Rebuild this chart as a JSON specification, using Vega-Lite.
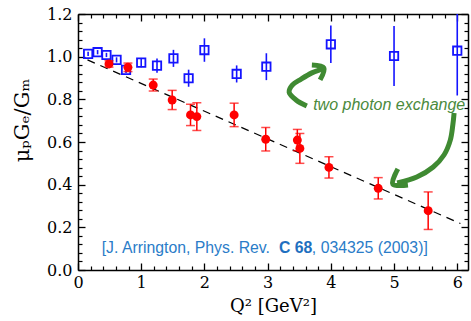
{
  "$schema": "https://vega.github.io/schema/vega-lite/v6.json",
  "width": 390,
  "height": 256,
  "autosize": {"type": "none"},
  "padding": {"left": 78, "top": 14, "right": 3, "bottom": 51},
  "background": "white",
  "config": {"view": {"stroke": null}},
  "datasets": {
    "blue": [
      {"q2": 0.16, "r": 1.013, "lo": 1.003, "hi": 1.023},
      {"q2": 0.31, "r": 1.021, "lo": 1.011, "hi": 1.031},
      {"q2": 0.45, "r": 1.008, "lo": 0.998, "hi": 1.018},
      {"q2": 0.61, "r": 0.985, "lo": 0.973, "hi": 0.997},
      {"q2": 0.76, "r": 0.938, "lo": 0.923, "hi": 0.953},
      {"q2": 1.0, "r": 0.972, "lo": 0.95, "hi": 0.994},
      {"q2": 1.25, "r": 0.958, "lo": 0.925, "hi": 0.991},
      {"q2": 1.51, "r": 0.992, "lo": 0.952, "hi": 1.032},
      {"q2": 1.75, "r": 0.899, "lo": 0.859, "hi": 0.939},
      {"q2": 2.0, "r": 1.031, "lo": 0.976, "hi": 1.086},
      {"q2": 2.51, "r": 0.919, "lo": 0.879, "hi": 0.959},
      {"q2": 2.98, "r": 0.953, "lo": 0.89, "hi": 1.016},
      {"q2": 4.0, "r": 1.058, "lo": 0.97, "hi": 1.146},
      {"q2": 5.0, "r": 1.003, "lo": 0.862, "hi": 1.144},
      {"q2": 6.0, "r": 1.028, "lo": 0.818, "hi": 1.238}
    ],
    "red": [
      {"q2": 0.49, "r": 0.966, "lo": 0.951, "hi": 0.981},
      {"q2": 0.79, "r": 0.95, "lo": 0.93, "hi": 0.97},
      {"q2": 1.19, "r": 0.867, "lo": 0.839, "hi": 0.895},
      {"q2": 1.49, "r": 0.797, "lo": 0.752, "hi": 0.842},
      {"q2": 1.78, "r": 0.727, "lo": 0.677, "hi": 0.777},
      {"q2": 1.88, "r": 0.719, "lo": 0.654, "hi": 0.784},
      {"q2": 2.47, "r": 0.727, "lo": 0.672, "hi": 0.782},
      {"q2": 2.97, "r": 0.613, "lo": 0.558, "hi": 0.668},
      {"q2": 3.47, "r": 0.609, "lo": 0.559, "hi": 0.659},
      {"q2": 3.51, "r": 0.57, "lo": 0.5, "hi": 0.64},
      {"q2": 3.97, "r": 0.481, "lo": 0.431, "hi": 0.531},
      {"q2": 4.75, "r": 0.383, "lo": 0.333, "hi": 0.433},
      {"q2": 5.54, "r": 0.278, "lo": 0.19, "hi": 0.366}
    ],
    "fit": [
      {"q2": 0.15, "r": 0.985},
      {"q2": 6.05, "r": 0.218}
    ],
    "arrows": [
      {"part": "a1", "i": 0, "q2": 3.62, "r": 0.769},
      {"part": "a1", "i": 1, "q2": 3.45, "r": 0.797},
      {"part": "a1", "i": 2, "q2": 3.34, "r": 0.834},
      {"part": "a1", "i": 3, "q2": 3.39, "r": 0.867},
      {"part": "a1", "i": 4, "q2": 3.53, "r": 0.895},
      {"part": "a1", "i": 5, "q2": 3.7, "r": 0.924},
      {"part": "a1", "i": 6, "q2": 3.86, "r": 0.942},
      {"part": "h1", "i": 0, "q2": 3.7, "r": 0.961},
      {"part": "h1", "i": 1, "q2": 3.89, "r": 0.947},
      {"part": "h1", "i": 2, "q2": 3.83, "r": 0.891},
      {"part": "a2", "i": 0, "q2": 5.95, "r": 0.736},
      {"part": "a2", "i": 1, "q2": 5.93, "r": 0.68},
      {"part": "a2", "i": 2, "q2": 5.89, "r": 0.609},
      {"part": "a2", "i": 3, "q2": 5.79, "r": 0.539},
      {"part": "a2", "i": 4, "q2": 5.62, "r": 0.483},
      {"part": "a2", "i": 5, "q2": 5.36, "r": 0.436},
      {"part": "a2", "i": 6, "q2": 5.05, "r": 0.408},
      {"part": "h2", "i": 0, "q2": 5.06, "r": 0.474},
      {"part": "h2", "i": 1, "q2": 4.98, "r": 0.403},
      {"part": "h2", "i": 2, "q2": 5.22, "r": 0.398}
    ],
    "labels": [
      {"q2": 3.72, "r": 0.75, "text": "two photon exchange", "kind": "note"},
      {"q2": 0.375, "r": 0.08, "text": "[J. Arrington, Phys. Rev.", "kind": "cite"},
      {"q2": 3.18, "r": 0.08, "text": "C 68", "kind": "bold"},
      {"q2": 3.7, "r": 0.08, "text": ", 034325 (2003)]", "kind": "cite"}
    ]
  },
  "resolve": {"axis": {"x": "independent", "y": "independent"}},
  "layer": [
    {
      "mark": {"type": "rule", "color": "#555555", "strokeWidth": 2},
      "encoding": {
        "y": {"datum": 1, "type": "quantitative", "scale": {"domain": [0, 1.2], "nice": false, "zero": false}, "axis": null}
      }
    },
    {
      "data": {"name": "fit"},
      "mark": {"type": "line", "color": "black", "strokeWidth": 1.2, "strokeDash": [8, 6]},
      "encoding": {
        "x": {"field": "q2", "type": "quantitative", "scale": {"domain": [0, 6.17], "nice": false, "zero": false},
          "axis": {"orient": "bottom", "values": [0, 1, 2, 3, 4, 5, 6], "format": "d", "tickSize": -7, "tickColor": "black", "tickWidth": 1.3,
            "domainColor": "black", "domainWidth": 1.5, "labelFont": "DejaVu Serif", "labelFontSize": 16, "labelColor": "black",
            "labelPadding": 11, "labelFlush": false, "labelOverlap": false, "grid": false,
            "title": "Q² [GeV²]", "titleFont": "DejaVu Serif", "titleFontSize": 18, "titleFontWeight": "normal", "titleColor": "black",
            "titleY": 36, "titleBaseline": "middle"}},
        "y": {"field": "r", "type": "quantitative", "scale": {"domain": [0, 1.2], "nice": false, "zero": false},
          "axis": {"orient": "left", "values": [0, 0.2, 0.4, 0.6, 0.8, 1.0, 1.2], "format": ".1f", "tickSize": -7, "tickColor": "black", "tickWidth": 1.3,
            "domainColor": "black", "domainWidth": 1.5, "labelFont": "DejaVu Serif", "labelFontSize": 16, "labelColor": "black",
            "labelPadding": 13, "labelFlush": false, "labelOverlap": false, "grid": false,
            "title": "μₚGₑ/Gₘ", "titleFont": "DejaVu Serif", "titleFontSize": 21, "titleFontWeight": "normal", "titleColor": "black",
            "titleX": -56, "titleY": 106, "titleAngle": 270, "titleAlign": "center", "titleBaseline": "middle"}}
      }
    },
    {
      "data": {"name": "blue"},
      "mark": {"type": "rule", "color": "#1414ff", "strokeWidth": 1.6, "clip": true},
      "encoding": {
        "x": {"field": "q2", "type": "quantitative", "scale": {"domain": [0, 6.17], "nice": false, "zero": false},
          "axis": {"orient": "bottom", "values": [0.2, 0.4, 0.6, 0.8, 1.2, 1.4, 1.6, 1.8, 2.2, 2.4, 2.6, 2.8, 3.2, 3.4, 3.6, 3.8, 4.2, 4.4, 4.6, 4.8, 5.2, 5.4, 5.6, 5.8],
            "tickSize": -4, "tickColor": "black", "tickWidth": 1.2, "domain": false, "labels": false, "grid": false, "title": null}},
        "y": {"field": "lo", "type": "quantitative", "scale": {"domain": [0, 1.2], "nice": false, "zero": false},
          "axis": {"orient": "left", "values": [0.04, 0.08, 0.12, 0.16, 0.24, 0.28, 0.32, 0.36, 0.44, 0.48, 0.52, 0.56, 0.64, 0.68, 0.72, 0.76, 0.84, 0.88, 0.92, 0.96, 1.04, 1.08, 1.12, 1.16],
            "tickSize": -4, "tickColor": "black", "tickWidth": 1.2, "domain": false, "labels": false, "grid": false, "title": null}},
        "y2": {"field": "hi"}
      }
    },
    {
      "data": {"name": "blue"},
      "mark": {"type": "point", "shape": "square", "filled": false, "color": "#1414ff", "strokeWidth": 1.8, "size": 70, "opacity": 1},
      "encoding": {
        "x": {"field": "q2", "type": "quantitative", "scale": {"domain": [0, 6.17], "nice": false, "zero": false},
          "axis": {"orient": "top", "values": [0, 1, 2, 3, 4, 5, 6], "tickSize": -7, "tickColor": "black", "tickWidth": 1.3,
            "domainColor": "black", "domainWidth": 1.5, "labels": false, "grid": false, "title": null}},
        "y": {"field": "r", "type": "quantitative", "scale": {"domain": [0, 1.2], "nice": false, "zero": false},
          "axis": {"orient": "right", "values": [0, 0.2, 0.4, 0.6, 0.8, 1.0, 1.2], "tickSize": -7, "tickColor": "black", "tickWidth": 1.3,
            "domainColor": "black", "domainWidth": 1.5, "labels": false, "grid": false, "title": null}}
      }
    },
    {
      "data": {"name": "red"},
      "mark": {"type": "errorbar", "ticks": {"size": 9, "color": "#ff0000", "thickness": 1.5}, "rule": {"color": "#ff0000", "strokeWidth": 1.5}},
      "encoding": {
        "x": {"field": "q2", "type": "quantitative", "scale": {"domain": [0, 6.17], "nice": false, "zero": false}, "axis": null},
        "y": {"field": "lo", "type": "quantitative", "scale": {"domain": [0, 1.2], "nice": false, "zero": false}, "axis": null},
        "y2": {"field": "hi"}
      }
    },
    {
      "data": {"name": "red"},
      "mark": {"type": "point", "shape": "circle", "filled": true, "color": "#ff0000", "size": 80, "opacity": 1},
      "encoding": {
        "x": {"field": "q2", "type": "quantitative", "scale": {"domain": [0, 6.17], "nice": false, "zero": false},
          "axis": {"orient": "top", "values": [0.2, 0.4, 0.6, 0.8, 1.2, 1.4, 1.6, 1.8, 2.2, 2.4, 2.6, 2.8, 3.2, 3.4, 3.6, 3.8, 4.2, 4.4, 4.6, 4.8, 5.2, 5.4, 5.6, 5.8],
            "tickSize": -4, "tickColor": "black", "tickWidth": 1.2, "domain": false, "labels": false, "grid": false, "title": null}},
        "y": {"field": "r", "type": "quantitative", "scale": {"domain": [0, 1.2], "nice": false, "zero": false},
          "axis": {"orient": "right", "values": [0.04, 0.08, 0.12, 0.16, 0.24, 0.28, 0.32, 0.36, 0.44, 0.48, 0.52, 0.56, 0.64, 0.68, 0.72, 0.76, 0.84, 0.88, 0.92, 0.96, 1.04, 1.08, 1.12, 1.16],
            "tickSize": -4, "tickColor": "black", "tickWidth": 1.2, "domain": false, "labels": false, "grid": false, "title": null}}
      }
    },
    {
      "data": {"name": "arrows"},
      "mark": {"type": "line", "color": "#3f8a32", "strokeWidth": 5, "interpolate": "catmull-rom", "strokeCap": "butt", "strokeJoin": "miter"},
      "encoding": {
        "x": {"field": "q2", "type": "quantitative", "scale": {"domain": [0, 6.17], "nice": false, "zero": false}, "axis": null},
        "y": {"field": "r", "type": "quantitative", "scale": {"domain": [0, 1.2], "nice": false, "zero": false}, "axis": null},
        "detail": {"field": "part", "type": "nominal"},
        "order": {"field": "i", "type": "quantitative"}
      }
    },
    {
      "data": {"name": "labels"},
      "transform": [{"filter": "datum.kind == 'note'"}],
      "mark": {"type": "text", "font": "Liberation Sans", "fontStyle": "italic", "fontSize": 16, "color": "#4a8a3c", "align": "left", "baseline": "alphabetic"},
      "encoding": {
        "x": {"field": "q2", "type": "quantitative", "scale": {"domain": [0, 6.17], "nice": false, "zero": false}, "axis": null},
        "y": {"field": "r", "type": "quantitative", "scale": {"domain": [0, 1.2], "nice": false, "zero": false}, "axis": null},
        "text": {"field": "text"}
      }
    },
    {
      "data": {"name": "labels"},
      "transform": [{"filter": "datum.kind == 'cite'"}],
      "mark": {"type": "text", "font": "Liberation Sans", "fontSize": 15.8, "color": "#2a7cc8", "align": "left", "baseline": "alphabetic"},
      "encoding": {
        "x": {"field": "q2", "type": "quantitative", "scale": {"domain": [0, 6.17], "nice": false, "zero": false}, "axis": null},
        "y": {"field": "r", "type": "quantitative", "scale": {"domain": [0, 1.2], "nice": false, "zero": false}, "axis": null},
        "text": {"field": "text"}
      }
    },
    {
      "data": {"name": "labels"},
      "transform": [{"filter": "datum.kind == 'bold'"}],
      "mark": {"type": "text", "font": "Liberation Sans", "fontSize": 15.8, "fontWeight": "bold", "color": "#1f70c0", "align": "left", "baseline": "alphabetic"},
      "encoding": {
        "x": {"field": "q2", "type": "quantitative", "scale": {"domain": [0, 6.17], "nice": false, "zero": false}, "axis": null},
        "y": {"field": "r", "type": "quantitative", "scale": {"domain": [0, 1.2], "nice": false, "zero": false}, "axis": null},
        "text": {"field": "text"}
      }
    }
  ]
}
